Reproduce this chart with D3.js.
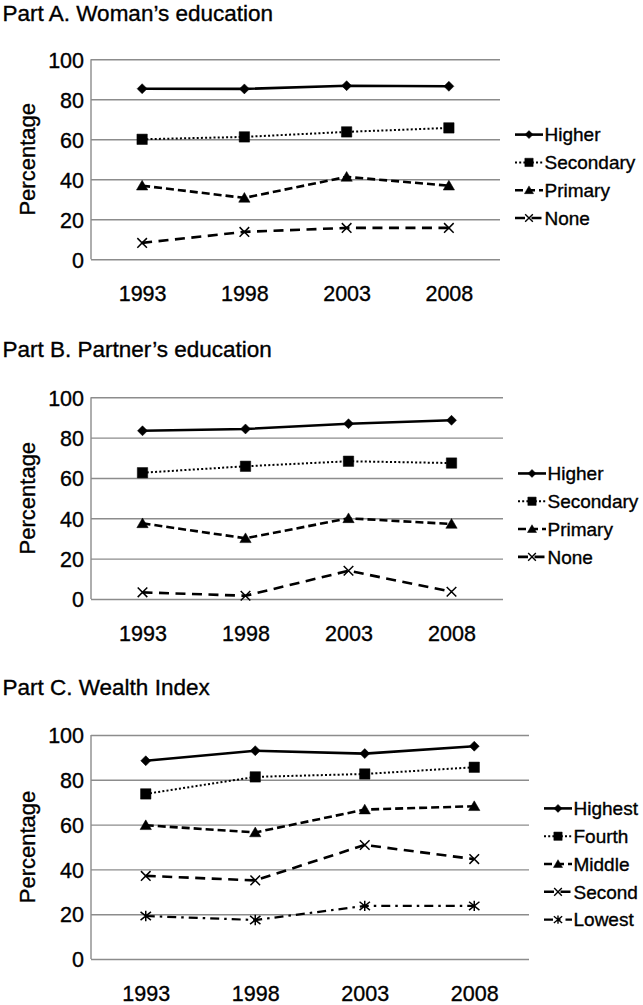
<!DOCTYPE html>
<html>
<head>
<meta charset="utf-8">
<script src="https://cdn.jsdelivr.net/npm/d3@7"></script>
<style>
  body { margin: 0; background: #fff; }
  svg { display: block; font-family: 'Liberation Sans', Arial, sans-serif; }
  text { stroke: #000; stroke-width: 0.35px; }
  .title { font-size: 22.5px; fill: #000; }
  .tick text { font-size: 21.5px; fill: #000; font-family: 'Liberation Sans', Arial, sans-serif; }
  .axis-label { font-size: 22px; fill: #000; }
  .key-label { font-size: 19px; fill: #000; }
</style>
</head>
<body>
<div id="chart"></div>
<script>
/* categories and tick values */
const years = ['1993', '1998', '2003', '2008']
const yTicks = [0, 20, 40, 60, 80, 100]
const eduLabels = ['Higher', 'Secondary', 'Primary', 'None']
const wealthLabels = ['Highest', 'Fourth', 'Middle', 'Second', 'Lowest']

/* Part A: woman's education (percent) */
const womanHigher = [85.3, 85.2, 86.8, 86.5]
const womanSecondary = [60.0, 61.2, 63.7, 65.7]
const womanPrimary = [36.8, 30.7, 41.2, 36.8]
const womanNone = [8.2, 13.7, 15.7, 15.7]

/* Part B: partner's education (percent) */
const partnerHigher = [83.4, 84.3, 86.9, 88.6]
const partnerSecondary = [62.6, 65.8, 68.3, 67.4]
const partnerPrimary = [37.5, 30.1, 40.0, 37.2]
const partnerNone = [3.3, 1.6, 14.0, 3.6]

/* Part C: wealth index (percent) */
const wealthHighest = [88.5, 93.0, 91.7, 95.0]
const wealthFourth = [73.7, 81.3, 82.6, 85.6]
const wealthMiddle = [59.7, 56.5, 66.7, 68.2]
const wealthSecond = [37.1, 35.1, 50.9, 44.6]
const wealthLowest = [19.2, 17.4, 23.7, 23.7]

/* custom symbol types (size = half width squared) */
const symDiamond = {
  draw(ctx, size) {
    const r = Math.sqrt(size)
    ctx.moveTo(0, -r); ctx.lineTo(r, 0); ctx.lineTo(0, r); ctx.lineTo(-r, 0); ctx.closePath()
  }
}
const symSquare = {
  draw(ctx, size) {
    const r = Math.sqrt(size)
    ctx.rect(-r, -r, 2 * r, 2 * r)
  }
}
const symTriangle = {
  draw(ctx, size) {
    const r = Math.sqrt(size)
    ctx.moveTo(0, -r * 1.0); ctx.lineTo(r * 1.05, r * 0.8); ctx.lineTo(-r * 1.05, r * 0.8); ctx.closePath()
  }
}
const symTimes = {
  draw(ctx, size) {
    const r = Math.sqrt(size)
    ctx.moveTo(-r, -r); ctx.lineTo(r, r); ctx.moveTo(r, -r); ctx.lineTo(-r, r)
  }
}
const symAsterisk = {
  draw(ctx, size) {
    const r = Math.sqrt(size)
    ctx.moveTo(-r, -r * 0.8); ctx.lineTo(r, r * 0.8); ctx.moveTo(r, -r * 0.8); ctx.lineTo(-r, r * 0.8)
    ctx.moveTo(0, -r); ctx.lineTo(0, r)
  }
}

/* line styles: one per series position */
const styles = [
  { dash: null, width: 2.6, sym: symDiamond, r: 5, fill: true },
  { dash: '2,2.2', width: 2, sym: symSquare, r: 5.2, fill: true },
  { dash: '8,4', width: 2.6, sym: symTriangle, r: 5.4, fill: true },
  { dash: '10,6.5', width: 2.6, sym: symTimes, r: 4.8, fill: false },
  { dash: '9,5,2.5,5', width: 2.2, sym: symAsterisk, r: 5.2, fill: false }
]

/* panel layout */
const left = 91
const panels = [
  {
    title: 'Part A. Woman\u2019s education', top: 59.3, bottom: 259.3, right: 500,
    labels: eduLabels, series: [womanHigher, womanSecondary, womanPrimary, womanNone]
  },
  {
    title: 'Part B. Partner\u2019s education', top: 397.3, bottom: 599, right: 503,
    labels: eduLabels, series: [partnerHigher, partnerSecondary, partnerPrimary, partnerNone]
  },
  {
    title: 'Part C. Wealth Index', top: 735, bottom: 959, right: 529,
    labels: wealthLabels,
    series: [wealthHighest, wealthFourth, wealthMiddle, wealthSecond, wealthLowest]
  }
]

const svg = d3.select('#chart').append('svg').attr('width', 643).attr('height', 1005)

const gridCol = '#8c8c8c'

panels.forEach(function (p) {
  const xScale = d3.scalePoint().domain(years).range([left, p.right]).padding(0.5)
  const yScale = d3.scaleLinear().domain([0, 100]).range([p.bottom, p.top])
  const g = svg.append('g')

  /* title (kept inside the top edge) */
  g.append('text').attr('class', 'title')
    .attr('x', 2.5).attr('y', Math.max(p.top - 40.5, 21))
    .text(p.title)

  /* y-axis with gridlines */
  g.append('g')
    .attr('transform', `translate(${left},0)`)
    .call(d3.axisLeft(yScale).tickValues(yTicks).tickSize(-(p.right - left)).tickPadding(7))
    .call((a) => a.select('.domain').remove())
    .call((a) => a.selectAll('.tick line').attr('stroke', gridCol).attr('stroke-width', 1.4))
    .call((a) => a.selectAll('.tick text').attr('dy', '0.36em'))

  /* left axis line */
  g.append('line')
    .attr('x1', left).attr('x2', left)
    .attr('y1', p.top).attr('y2', p.bottom)
    .attr('stroke', gridCol).attr('stroke-width', 1.4)

  /* x-axis labels */
  g.append('g')
    .attr('transform', `translate(0,${p.bottom})`)
    .call(d3.axisBottom(xScale).tickSize(0).tickPadding(0))
    .call((a) => a.select('.domain').remove())
    .call((a) => a.selectAll('.tick text').attr('y', 42).attr('dy', 0))

  /* y-axis title */
  g.append('text').attr('class', 'axis-label')
    .attr('transform', `translate(35,${(p.top + p.bottom) / 2}) rotate(-90)`)
    .attr('text-anchor', 'middle')
    .text('Percentage')

  const line = d3.line().x((d, i) => xScale(years[i])).y((d) => yScale(d))

  /* lines */
  p.series.forEach(function (vals, k) {
    const st = styles[k]
    g.append('path')
      .attr('d', line(vals))
      .attr('fill', 'none')
      .attr('stroke', '#000')
      .attr('stroke-width', st.width)
      .attr('stroke-dasharray', st.dash)
  })

  /* markers */
  p.series.forEach(function (vals, k) {
    const st = styles[k]
    const sym = d3.symbol().type(st.sym).size(st.r * st.r)
    g.selectAll(null)
      .data(vals)
      .enter()
      .append('path')
      .attr('transform', (d, i) => `translate(${xScale(years[i])},${yScale(d)})`)
      .attr('d', sym)
      .attr('fill', st.fill ? '#000' : 'none')
      .attr('stroke', '#000')
      .attr('stroke-width', st.fill ? 0.5 : 1.5)
  })

  /* legend */
  const n = p.labels.length
  const mid = (p.top + p.bottom) / 2 + 17
  const rowH = 27.8
  const lx = p.right + 15
  const key = g.selectAll('g.key')
    .data(p.labels)
    .enter()
    .append('g')
    .attr('class', 'key')
    .attr('transform', (d, i) => `translate(${lx},${mid + (i - (n - 1) / 2) * rowH})`)

  key.append('line')
    .attr('x1', 0).attr('x2', 28).attr('y1', 0).attr('y2', 0)
    .attr('stroke', '#000')
    .attr('stroke-width', (d, i) => styles[i].width)
    .attr('stroke-dasharray', (d, i) => styles[i].dash)

  key.append('path')
    .attr('transform', 'translate(14,0)')
    .attr('d', (d, i) => d3.symbol().type(styles[i].sym).size(Math.pow(styles[i].r * 0.8, 2))())
    .attr('fill', (d, i) => (styles[i].fill ? '#000' : 'none'))
    .attr('stroke', '#000')
    .attr('stroke-width', (d, i) => (styles[i].fill ? 0.5 : 1.4))

  key.append('text')
    .attr('class', 'key-label')
    .attr('x', 29.5)
    .attr('dy', '0.36em')
    .text((d) => d)
})
</script>
</body>
</html>
